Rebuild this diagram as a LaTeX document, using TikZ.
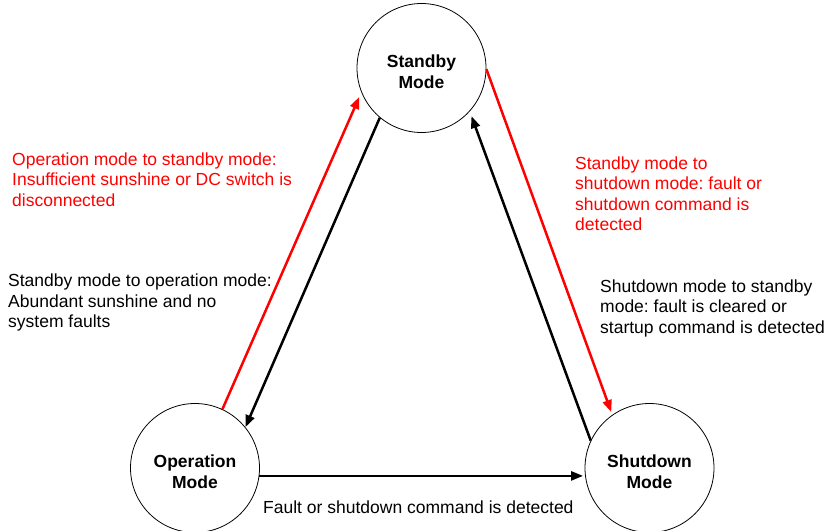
\documentclass[tikz,border=0pt]{standalone}
\usepackage{fontspec}
\setmainfont{Liberation Sans}
\usepackage{tikz}
\usetikzlibrary{arrows.meta,calc,positioning}
\definecolor{rod}{RGB}{255,0,0}
\frenchspacing
\tikzset{
    >={Triangle[length=12pt,width=9pt]},
    tilstand/.style={
           circle,
           draw=black, line width=0.8pt,
           minimum size=129pt,
           inner sep=0pt,
           align=center,
           text height=40.6pt, text depth=0pt,
           font=\fontsize{17.5}{20.5}\selectfont\bfseries},
    pil/.style={
           ->,
           line width=2.5pt},
    rodpil/.style={
           pil,
           draw=rod},
    forklaring/.style={
           align=left,
           inner sep=0pt,
           anchor=base west,
           font=\fontsize{17.5}{20.5}\selectfont}
}

\begin{document}
\begin{tikzpicture}[x=1pt,y=-1pt]
        \useasboundingbox (0,0) rectangle (829,530);
        \node[tilstand] (Sb) at (421.5,68)  {Standby\\Mode};
        \node[tilstand] (Op) at (195,468)   {Operation\\Mode};
        \node[tilstand] (Sd) at (649.5,468) {Shutdown\\Mode};
        % labels: anchored at the baseline of their last line
        \node[forklaring, text=rod] (OpSb) at (12,206) {Operation mode to standby mode:\\Insufficient sunshine or DC switch is\\disconnected};
        \node[forklaring] (SbOp) at (8,327.5) {Standby mode to operation mode:\\Abundant sunshine and no\\system faults};
        \node[forklaring, text=rod] (SbSd) at (575,230.7) {Standby mode to\\shutdown mode: fault or\\shutdown command is\\detected};
        \node[forklaring] (SdSb) at (600,333) {Shutdown mode to standby\\mode: fault is cleared or\\startup command is detected};
        \node[forklaring] (OpSd) at (263,513) {Fault or shutdown command is detected};
        \draw[rodpil, shorten >=5pt] (Op.65) -- (Sb.202);
        \draw[pil] (Sb.230) -- (Op.39);
        \draw[rodpil, shorten >=3pt] (Sb.359) -- (Sd.125);
        \draw[pil, shorten >=5pt] (Sd.155) -- (Sb.318);
        \draw[pil, shorten >=2pt] (Op.353) -- (Sd.187);
    \end{tikzpicture}
\end{document}
